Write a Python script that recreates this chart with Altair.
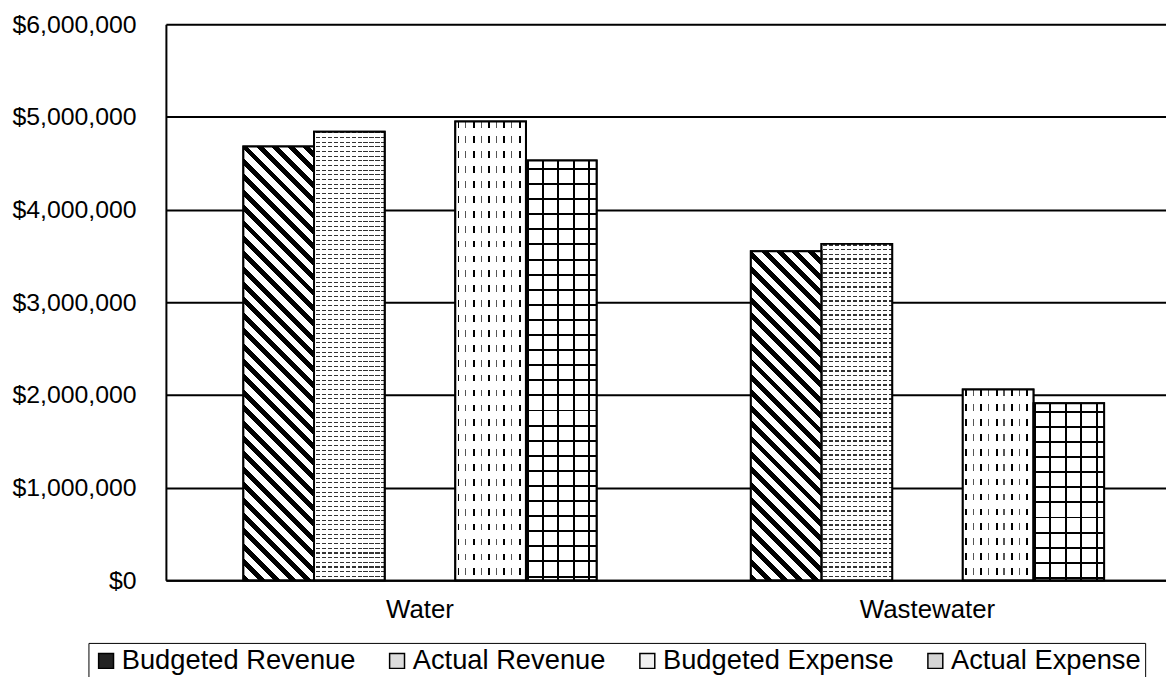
import math
import altair as alt
import pandas as pd

# ---------------- data ----------------
categories = ["Water", "Wastewater"]
series = ["Budgeted Revenue", "Actual Revenue", " ", "Budgeted Expense", "Actual Expense"]
legend_series = ["Budgeted Revenue", "Actual Revenue", "Budgeted Expense", "Actual Expense"]
budgeted_revenue = [4680000, 3550000]
actual_revenue = [4840000, 3630000]
budgeted_expense = [4950000, 2060000]
actual_expense = [4530000, 1910000]
y_ticks = [0, 1000000, 2000000, 3000000, 4000000, 5000000, 6000000]

values_by_series = {
    "Budgeted Revenue": budgeted_revenue,
    "Actual Revenue": actual_revenue,
    "Budgeted Expense": budgeted_expense,
    "Actual Expense": actual_expense,
}
rows = []
for i, c in enumerate(categories):
    for s in legend_series:
        rows.append({"category": c, "series": s, "value": values_by_series[s][i]})
df = pd.DataFrame(rows)

# ---------------- layout ----------------
FONT = "Liberation Sans"
PLOT_W = 1007          # visible part of plot (the reference is cropped on the right)
PLOT_H = 560
Y_MAX = 6000000
STEP = 511.0           # category step of the (wider) original plot
P_INNER = 0.304
LEFT_GAP = 78.0
n_cat = len(categories)
P_OUTER = (PLOT_W / STEP - n_cat + P_INNER) / 2
ALIGN = LEFT_GAP / (PLOT_W - STEP * (n_cat - P_INNER))
BAR_W = STEP * (1 - P_INNER) / len(series)
CLEAR = "rgba(255,255,255,0)"


def px(v):
    return v / Y_MAX * PLOT_H


def periodic(n, segs, bg):
    out = []

    def add(o, col):
        o = max(0.0, min(1.0, o))
        out.append({"offset": round(o, 5), "color": col})

    add(0, bg)
    k = 0
    while k / n < 1:
        for a, b, col in segs:
            s0 = (k + a) / n
            s1 = (k + b) / n
            if s0 >= 1:
                break
            add(s0, bg)
            add(s0, col)
            add(s1, col)
            add(s1, bg)
        k += 1
    add(1, bg)
    return out


def lin(x1, y1, x2, y2, stops):
    return {"gradient": "linear", "x1": x1, "y1": y1, "x2": x2, "y2": y2, "stops": stops}


def patterns(series_name, v):
    w = BAR_W
    h = max(px(v), 1)
    if series_name == "Budgeted Revenue":
        d = w * w + h * h
        a = w * (w + h) / d
        b = h * (w + h) / d
        return [lin(0, 1, a, 1 - b, periodic((w + h) / 15.5, [(0, 0.45, "#000")], "#fff"))]
    if series_name == "Actual Revenue":
        return [
            lin(0, 0, 0, 1, periodic(h / 4.7, [(0.1, 0.36, "#333")], "#fff")),
            lin(0, 0, 1, 0, periodic(w / 6.0, [(0.0, 0.3, "#fff")], CLEAR)),
        ]
    if series_name == "Budgeted Expense":
        return [
            lin(0, 0, 1, 0, periodic(w / 15.4, [(0.15, 0.27, "#000"), (0.65, 0.73, "#555")], "#fff")),
            lin(0, 0, 0, 1, periodic(h / 15.0, [(0.45, 1.0, "#fff")], CLEAR)),
        ]
    # Actual Expense: grid
    return [
        lin(0, 0, 0, 1, periodic(h / 15.2, [(0.5, 0.63, "#000")], "#fff")),
        lin(0, 0, 1, 0, periodic(w / 15.5, [(0.04, 0.17, "#000")], CLEAR)),
    ]


# ---------------- encodings ----------------
x_enc = alt.X(
    "category:N",
    sort=categories,
    title=None,
    scale=alt.Scale(paddingInner=P_INNER, paddingOuter=P_OUTER, align=ALIGN),
    axis=alt.Axis(
        labelAngle=0, labelFont=FONT, labelFontSize=26, labelColor="#000",
        labelPadding=16, ticks=False, domainColor="#000", domainWidth=2, grid=False,
    ),
)
y_enc = alt.Y(
    "value:Q",
    title=None,
    scale=alt.Scale(domain=[0, Y_MAX], nice=False, zero=True),
    axis=alt.Axis(
        values=y_ticks, format="$,.0f", labelFont=FONT, labelFontSize=25,
        labelColor="#000", labelPadding=30, ticks=False, labelFlush=False,
        domainColor="#000", domainWidth=2, grid=True, gridColor="#000", gridWidth=2,
    ),
)
xo_enc = alt.XOffset(
    "series:N", sort=series,
    scale=alt.Scale(domain=series, paddingInner=0, paddingOuter=0),
)

base = alt.Chart(df).mark_bar(stroke="black", strokeWidth=2).encode(
    x=x_enc,
    xOffset=xo_enc,
    y=y_enc,
    fill=alt.Fill(
        "series:N",
        scale=alt.Scale(domain=series, range=["#222222", "#dddddd", "#ffffff", "#f0f0f0", "#d5d5d5"]),
        legend=alt.Legend(
            values=legend_series, title=None, orient="none", direction="horizontal",
            legendX=-78, legendY=623, labelFont=FONT, labelFontSize=27.5, labelColor="#000",
            labelLimit=500, labelOffset=2, symbolType="square", symbolSize=225,
            symbolStrokeColor="black", symbolStrokeWidth=1.5, columnPadding=28,
            padding=4, strokeColor="black", fillColor="white",
        ),
    ),
)

layers = [base]
for _, r in df.iterrows():
    for g in patterns(r["series"], r["value"]):
        layers.append(
            alt.Chart(df)
            .transform_filter((alt.datum.category == r["category"]) & (alt.datum.series == r["series"]))
            .mark_bar(fill=g)
            .encode(x=x_enc, xOffset=xo_enc, y=y_enc)
        )

outline = alt.Chart(df).mark_bar(fillOpacity=0, stroke="black", strokeWidth=2).encode(
    x=x_enc, xOffset=xo_enc, y=y_enc
)
layers.append(outline)

chart = (
    alt.layer(*layers)
    .properties(
        width=PLOT_W,
        height=PLOT_H,
        autosize=alt.AutoSizeParams(type="none"),
        padding={"left": 159, "top": 14, "right": 0, "bottom": 95},
    )
    .configure_view(stroke=None)
    .configure(font=FONT)
)

chart.save("out.html", embed_options={"renderer": "svg", "actions": False})
